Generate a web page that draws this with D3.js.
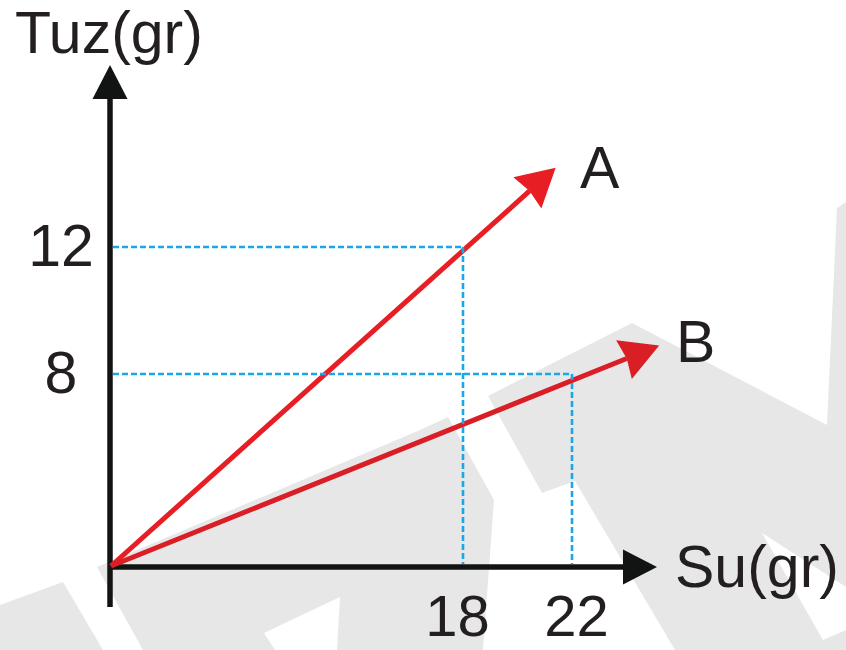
<!DOCTYPE html>
<html>
<head>
<meta charset="utf-8">
<script src="https://cdn.jsdelivr.net/npm/d3@7"></script>
<style>
  html, body { margin: 0; padding: 0; background: #fff; }
  svg { display: block; }
  text { font-family: "Liberation Sans", Arial, Helvetica, sans-serif; fill: #231f20; }
</style>
</head>
<body>
<div id="chart"></div>
<script>
// ---- data ----
const categories     = ["A", "B"];
const waterValues    = [18, 22];     // Su (gr) read at the dashed guides
const saltValues     = [12, 8];      // Tuz (gr) read at the dashed guides
const arrowEndWater  = [21.4, 25.2]; // where each arrow tip sits (data units)
const arrowEndSalt   = [14.5, 8.9];
const xTickValues    = [18, 22];
const yTickValues    = [8, 12];
const xTitle = "Su(gr)";
const yTitle = "Tuz(gr)";

// ---- layout ----
const W = 846, H = 650;
const svg = d3.select("#chart").append("svg").attr("width", W).attr("height", H);

// the drawing is not to scale: piecewise-linear scales through the marked ticks
const x = d3.scaleLinear().domain([0, 18, 22]).range([110, 463, 572]);
const y = d3.scaleLinear().domain([0, 8, 12]).range([567, 374, 247]);

// ---- background watermark (decoration) ----
const watermark = [
  [[0,605],[63,582],[103,650],[0,650]],
  [[97,567],[420,430],[448,417],[494,500],[483,650],[143,650]],
  [[488,396],[632,323],[827,425],[837,208],[846,202],[846,587],[762,533],[823,640],[846,630],[846,650],[675,650],[575,481],[542,493]]
];
const holes = [
  [[264,633],[340,597],[337,650],[275,650]]
];
const wm = svg.append("g");
wm.selectAll("path.wm").data(watermark).join("path")
  .attr("d", d => "M" + d.join("L") + "Z").attr("fill", "#e7e7e7");
wm.selectAll("path.hole").data(holes).join("path")
  .attr("d", d => "M" + d.join("L") + "Z").attr("fill", "#ffffff");

// ---- axes ----
const axisColor = "#121414";
const axisW = 5.5;
const x0 = x(0), y0 = y(0);
const yTop = 65, yBottom = 607, xRight = 657;
const headLen = 34, headHalf = 17.5;

const axes = svg.append("g");
axes.append("line").attr("x1", x0).attr("x2", x0).attr("y1", yBottom).attr("y2", yTop + headLen - 2)
  .attr("stroke", axisColor).attr("stroke-width", axisW);
axes.append("path")
  .attr("d", `M${x0},${yTop}L${x0 - headHalf},${yTop + headLen}L${x0 + headHalf},${yTop + headLen}Z`)
  .attr("fill", axisColor);
axes.append("line").attr("x1", x0 - 2).attr("x2", xRight - headLen + 2).attr("y1", y0).attr("y2", y0)
  .attr("stroke", axisColor).attr("stroke-width", axisW);
axes.append("path")
  .attr("d", `M${xRight},${y0}L${xRight - headLen},${y0 - headHalf}L${xRight - headLen},${y0 + headHalf}Z`)
  .attr("fill", axisColor);

// tick labels via d3 axes (no tick lines, no domain)
const fs = 59;
const gx = svg.append("g").attr("transform", `translate(0,${y0})`)
  .call(d3.axisBottom(x).tickValues(xTickValues).tickSize(0).tickPadding(28).tickFormat(d3.format("d")));
gx.select(".domain").remove();
gx.selectAll("text").attr("font-size", 58).attr("fill", "#231f20")
  .attr("font-family", "Liberation Sans, Arial, sans-serif").attr("dx", d => d === 18 ? -6 : 4);

const gy = svg.append("g").attr("transform", `translate(${x0},0)`)
  .call(d3.axisLeft(y).tickValues(yTickValues).tickSize(0).tickPadding(49).tickFormat(d3.format("d")));
gy.select(".domain").remove();
gy.selectAll("text").attr("font-size", fs).attr("fill", "#231f20")
  .attr("font-family", "Liberation Sans, Arial, sans-serif")
  .attr("text-anchor", "middle");

// axis titles
svg.append("text").attr("x", 15).attr("y", 53).attr("font-size", fs).text(yTitle);
svg.append("text").attr("x", 675).attr("y", 587).attr("font-size", fs).text(xTitle);

// ---- arrows ----
const arrowColors = ["#e81e25", "#d91e26"];
const aLen = 38, aHalf = 21;
const arrows = svg.append("g");
categories.forEach((c, i) => {
  const tip = [x(arrowEndWater[i]), y(arrowEndSalt[i])];
  const dx = tip[0] - x0, dy = tip[1] - y0;
  const L = Math.hypot(dx, dy);
  const u = [dx / L, dy / L], n = [-u[1], u[0]];
  const base = [tip[0] - aLen * u[0], tip[1] - aLen * u[1]];
  const notch = [tip[0] - (aLen - 3) * u[0], tip[1] - (aLen - 3) * u[1]];
  arrows.append("line")
    .attr("x1", x0 + 1).attr("y1", y0 - 1)
    .attr("x2", notch[0]).attr("y2", notch[1])
    .attr("stroke", arrowColors[i]).attr("stroke-width", 5);
  arrows.append("path")
    .attr("d", `M${tip}L${base[0] + aHalf * n[0]},${base[1] + aHalf * n[1]}L${notch}L${base[0] - aHalf * n[0]},${base[1] - aHalf * n[1]}Z`)
    .attr("fill", arrowColors[i]);
});

// arrow labels
const labelPos = [[580, 188], [676, 362]];
svg.append("g").selectAll("text").data(categories).join("text")
  .attr("x", (d, i) => labelPos[i][0]).attr("y", (d, i) => labelPos[i][1])
  .attr("font-size", fs).text(d => d);

// ---- dashed guides ----
const guideColor = "#1ba6e6";
const guides = svg.append("g").attr("stroke", guideColor).attr("stroke-width", 2.6)
  .attr("stroke-dasharray", "6,3").attr("fill", "none");
categories.forEach((c, i) => {
  guides.append("line").attr("x1", x0 + 3).attr("x2", x(waterValues[i]))
    .attr("y1", y(saltValues[i])).attr("y2", y(saltValues[i]));
  guides.append("line").attr("x1", x(waterValues[i])).attr("x2", x(waterValues[i]))
    .attr("y1", y(saltValues[i])).attr("y2", y0 - 3);
});
</script>
</body>
</html>
